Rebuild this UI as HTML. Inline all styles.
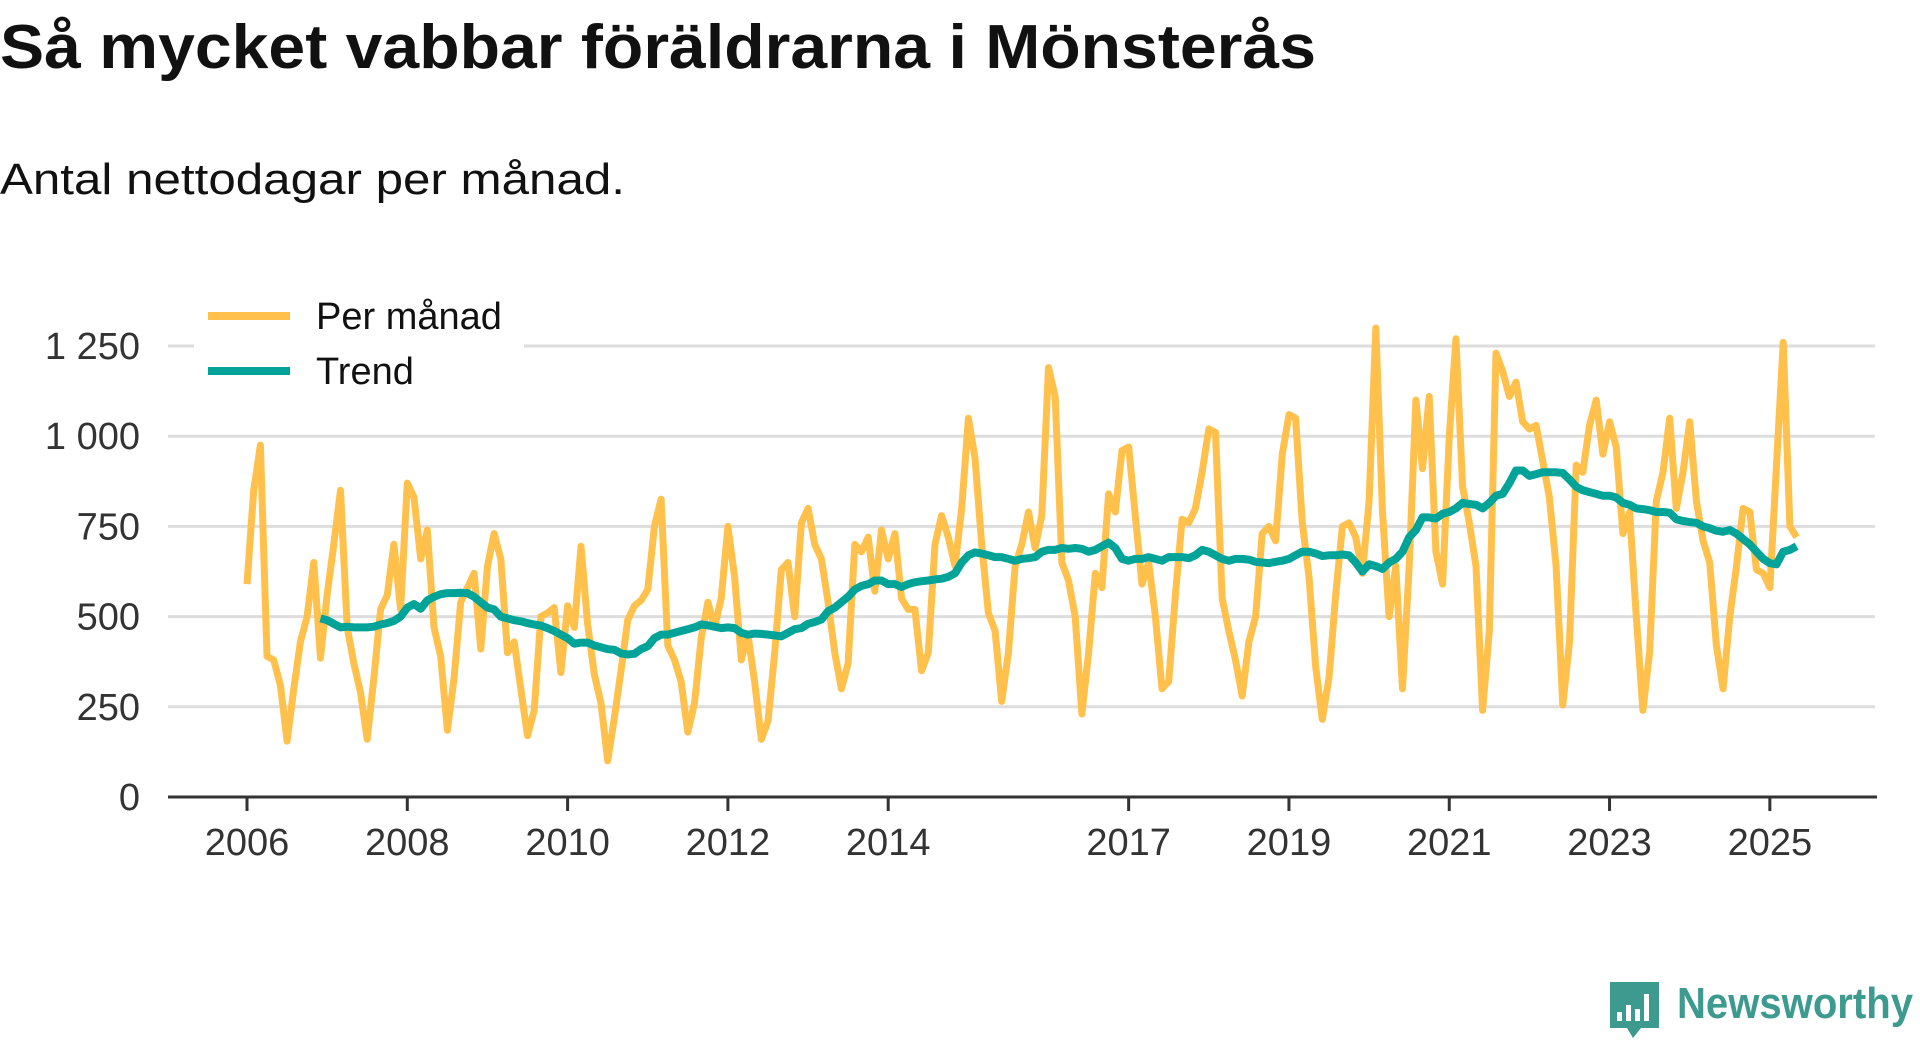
<!DOCTYPE html>
<html><head><meta charset="utf-8"><style>
html,body{margin:0;padding:0;background:#fff;width:1920px;height:1040px;overflow:hidden}
svg{display:block;font-family:"Liberation Sans",sans-serif}
</style></head><body>
<svg id="chart" width="1920" height="1040" viewBox="0 0 1920 1040" xmlns="http://www.w3.org/2000/svg">
<text x="0" y="68" font-size="62" font-weight="bold" fill="#111" textLength="1316" lengthAdjust="spacingAndGlyphs">Så mycket vabbar föräldrarna i Mönsterås</text>
<text x="0" y="194" font-size="44" fill="#111" textLength="625" lengthAdjust="spacingAndGlyphs">Antal nettodagar per månad.</text>
<g id="grid"></g>
<g id="yaxis"></g>
<g id="xaxis"></g>
<g id="series"></g>
<g>
<rect x="194" y="292" width="330" height="110" fill="#fff"/>
<line x1="208" y1="316" x2="290" y2="316" stroke="#ffc04c" stroke-width="8"/>
<text x="316" y="329" font-size="38" fill="#111">Per månad</text>
<line x1="208" y1="371" x2="290" y2="371" stroke="#00a398" stroke-width="8"/>
<text x="316" y="384" font-size="38" fill="#111">Trend</text>
</g>
<g>
<path d="M1610 982 h49 v46 h-18 l-8 10 l-6 -10 h-17 z" fill="#3d9a8e"/>
<rect x="1617" y="1012" width="5" height="9" fill="#fff"/>
<rect x="1626" y="1005" width="5" height="16" fill="#fff"/>
<rect x="1635" y="1009" width="5" height="12" fill="#fff"/>
<rect x="1644" y="994" width="5" height="27" fill="#fff"/>
<text x="1677" y="1018" font-size="44" font-weight="bold" fill="#3d9a8e" textLength="236" lengthAdjust="spacingAndGlyphs">Newsworthy</text>
</g>
</svg>
<script>
const yTicks = [0, 250, 500, 750, 1000, 1250];
const yTickLabels = ["0", "250", "500", "750", "1 000", "1 250"];
const xTickYears = [2006, 2008, 2010, 2012, 2014, 2017, 2019, 2021, 2023, 2025];
const startYear = 2006;
const perManad = [
590,850,975,390,380,310,155,300,430,500,650,385,
560,700,850,470,370,290,160,330,520,560,700,520,
870,830,660,740,470,390,185,330,540,580,620,410,
640,730,660,400,430,300,170,240,500,510,525,345,
530,470,695,480,340,260,100,220,350,490,530,545,
575,750,825,420,380,320,180,260,440,540,470,550,
750,610,380,450,320,160,210,400,630,650,500,760,
800,700,660,540,400,300,370,700,680,720,570,740,
660,730,550,520,520,350,400,700,780,720,640,800,
1050,940,700,510,460,265,400,640,700,790,690,780,
1190,1110,650,600,500,230,400,620,580,840,790,960,
970,780,590,650,500,300,320,560,770,760,800,900,
1020,1010,550,460,380,280,430,500,730,750,710,950,
1060,1050,760,610,360,215,330,560,750,760,720,620,
820,1300,790,500,640,300,640,1100,910,1110,680,590,
1000,1270,860,760,640,240,460,1230,1180,1110,1150,1040,
1020,1030,930,830,640,255,430,920,900,1030,1100,950,
1040,970,730,790,500,240,400,820,900,1050,800,900,
1040,820,710,650,420,300,500,640,800,790,630,620,
580,920,1260,750,720];
const trendStartIndex = 11;
const trend = [495,
490,480,470,472,470,470,470,472,478,482,488,500,
525,535,522,545,555,562,565,565,566,565,555,540,
525,520,500,495,490,487,482,478,475,468,460,450,
440,425,428,428,420,415,410,408,398,395,397,410,
418,440,450,450,455,460,465,470,478,476,472,468,
470,468,455,450,453,452,450,448,445,455,465,468,
480,485,492,515,525,540,555,575,585,590,600,600,
590,590,582,590,595,598,600,603,605,610,620,650,
670,678,675,670,665,665,660,655,660,662,665,680,
685,685,690,688,690,688,680,685,695,705,690,660,
655,660,660,665,660,655,665,665,665,662,670,685,
680,670,660,655,660,660,658,652,650,648,652,655,
660,670,680,680,675,668,670,670,672,670,650,625,
645,640,632,650,660,680,720,740,775,775,772,785,
790,800,815,812,810,800,815,835,840,870,905,905,
890,895,900,900,900,898,880,860,850,845,840,835,
835,830,815,810,800,798,795,790,790,788,770,765,
762,760,750,745,738,735,740,730,715,700,680,660,
648,645,680,685,695];

const NS = "http://www.w3.org/2000/svg";
const X0 = 247, PX_PER_YEAR = 80.15, Y0 = 797, PX_PER_UNIT = 451 / 1250;
function xScale(t) { return X0 + (t - startYear) * PX_PER_YEAR; }
function yScale(v) { return Y0 - v * PX_PER_UNIT; }
function mk(tag, attrs, parent) {
  const e = document.createElementNS(NS, tag);
  for (const k in attrs) e.setAttribute(k, attrs[k]);
  parent.appendChild(e);
  return e;
}
const grid = document.getElementById('grid');
const yaxis = document.getElementById('yaxis');
const xaxis = document.getElementById('xaxis');
const series = document.getElementById('series');

yTicks.forEach((v, i) => {
  if (v > 0) {
    const g = mk('line', {x1: 168, x2: 1875, y1: yScale(v), y2: yScale(v), stroke: '#dddddd', 'stroke-width': 3}, grid);
    
    
  }
  const t = mk('text', {x: 140, y: yScale(v) + 13, 'text-anchor': 'end', 'font-size': 38, fill: '#333'}, yaxis);
  t.textContent = yTickLabels[i];
  
  
});
const ax = mk('line', {x1: 168, x2: 1877, y1: Y0, y2: Y0, stroke: '#333', 'stroke-width': 3}, xaxis);


xTickYears.forEach(yr => {
  const x = xScale(yr);
  const tk = mk('line', {x1: x, x2: x, y1: Y0, y2: Y0 + 14, stroke: '#333', 'stroke-width': 3}, xaxis);
  
  
  const t = mk('text', {x: x, y: 855, 'text-anchor': 'middle', 'font-size': 38, fill: '#333'}, xaxis);
  t.textContent = String(yr);
  
  
});
function pathFor(arr, offset) {
  return arr.map((v, i) => (i ? 'L' : 'M') + xScale(startYear + (i + offset) / 12).toFixed(1) + ' ' + yScale(v).toFixed(1)).join(' ');
}
const p1 = mk('path', {d: pathFor(perManad, 0), fill: 'none', stroke: '#ffc04c', 'stroke-width': 7, 'stroke-linejoin': 'round'}, series);


const p2 = mk('path', {d: pathFor(trend, trendStartIndex), fill: 'none', stroke: '#00a398', 'stroke-width': 8, 'stroke-linejoin': 'round'}, series);


</script>
</body></html>
